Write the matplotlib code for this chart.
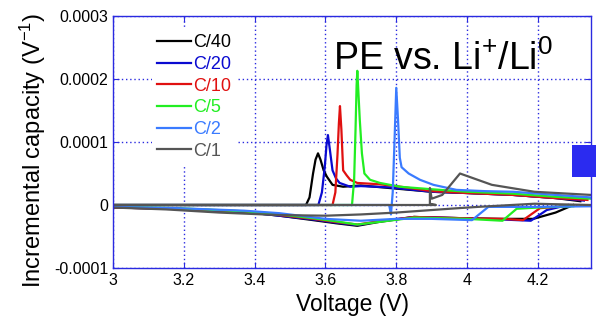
import matplotlib
matplotlib.use("Agg")
import matplotlib.pyplot as plt
from matplotlib.patches import Rectangle
import numpy as np

plt.rcParams['font.family'] = ['Liberation Sans', 'DejaVu Sans']
plt.rcParams['mathtext.fontset'] = 'custom'
plt.rcParams['mathtext.rm'] = 'Liberation Sans'
plt.rcParams['mathtext.it'] = 'Liberation Sans:italic'

# 数据（单位 1e-4 V^-1）
labels = ["C/40", "C/20", "C/10", "C/5", "C/2", "C/1"]
colors = ["#000000", "#0a0ad0", "#e01010", "#22ee22", "#3a7bff", "#555555"]

# 充电曲线
ch40_v = [3.0, 3.3, 3.5, 3.545, 3.555, 3.565, 3.572, 3.579, 3.586, 3.595, 3.604, 3.62, 3.65, 3.7, 3.78, 3.9, 4.0, 4.13, 4.25, 4.32]
ch40_y = [0, 0, 0, 0, 0.12, 0.5, 0.72, 0.82, 0.72, 0.55, 0.45, 0.32, 0.29, 0.31, 0.27, 0.21, 0.19, 0.16, 0.11, 0.06]
ch20_v = [3.0, 3.3, 3.5, 3.58, 3.59, 3.598, 3.603, 3.607, 3.612, 3.62, 3.63, 3.64, 3.67, 3.7, 3.78, 3.9, 4.0, 4.13, 4.25, 4.33]
ch20_y = [0, 0, 0, 0, 0.2, 0.6, 0.95, 1.11, 0.9, 0.55, 0.42, 0.35, 0.29, 0.3, 0.28, 0.21, 0.19, 0.16, 0.11, 0.07]
ch10_v = [3.0, 3.3, 3.5, 3.62, 3.628, 3.634, 3.638, 3.641, 3.645, 3.65, 3.66, 3.67, 3.69, 3.75, 3.8, 3.9, 4.0, 4.13, 4.25, 4.34]
ch10_y = [0, 0, 0, 0, 0.2, 0.8, 1.3, 1.57, 1.2, 0.55, 0.47, 0.4, 0.35, 0.33, 0.3, 0.22, 0.19, 0.16, 0.11, 0.08]
ch5_v = [3.0, 3.3, 3.5, 3.675, 3.681, 3.685, 3.688, 3.69, 3.697, 3.703, 3.71, 3.726, 3.754, 3.81, 3.9, 4.0, 4.13, 4.25, 4.35]
ch5_y = [0, 0, 0, 0, 0.4, 1.2, 1.9, 2.13, 1.35, 0.82, 0.5, 0.4, 0.35, 0.29, 0.25, 0.21, 0.18, 0.13, 0.1]
ch2_v = [3.0, 3.3, 3.5, 3.78, 3.785, 3.79, 3.795, 3.8, 3.805, 3.81, 3.815, 3.835, 3.867, 3.905, 3.97, 4.05, 4.13, 4.25, 4.35]
ch2_y = [0, 0, 0, 0, -0.15, 0.2, 1.0, 1.86, 1.35, 0.75, 0.6, 0.5, 0.4, 0.32, 0.24, 0.22, 0.21, 0.16, 0.12]
ch1_v = [3.0, 3.3, 3.6, 3.912, 3.895, 3.895, 3.9, 3.93, 3.98, 4.03, 4.07, 4.19, 4.35]
ch1_y = [0, 0, 0, 0, 0.02, 0.27, 0.1, 0.16, 0.5, 0.4, 0.32, 0.21, 0.16]

# 放电曲线
dc40_v = [4.30, 4.25, 4.187, 4.1, 3.99, 3.85, 3.75, 3.69, 3.63, 3.565, 3.47, 3.37, 3.18, 3.0]
dc40_y = [0, -0.12, -0.22, -0.22, -0.21, -0.19, -0.27, -0.33, -0.29, -0.24, -0.17, -0.11, -0.06, -0.04]
dc20_v = [4.285, 4.225, 4.18, 4.1, 3.99, 3.85, 3.75, 3.69, 3.63, 3.565, 3.47, 3.37, 3.18, 3.0]
dc20_y = [0, -0.08, -0.25, -0.23, -0.21, -0.19, -0.26, -0.32, -0.28, -0.23, -0.17, -0.11, -0.06, -0.04]
dc10_v = [4.27, 4.206, 4.158, 4.1, 3.99, 3.85, 3.75, 3.69, 3.63, 3.565, 3.47, 3.37, 3.18, 3.0]
dc10_y = [-0.02, -0.05, -0.24, -0.22, -0.21, -0.19, -0.26, -0.31, -0.27, -0.22, -0.16, -0.1, -0.06, -0.04]
dc5_v = [4.30, 4.2, 4.14, 4.10, 4.0, 3.85, 3.75, 3.69, 3.63, 3.565, 3.47, 3.37, 3.18, 3.0]
dc5_y = [-0.02, -0.04, -0.06, -0.25, -0.22, -0.2, -0.27, -0.31, -0.26, -0.21, -0.15, -0.1, -0.05, -0.03]
dc2_v = [4.35, 4.2, 4.06, 4.014, 3.9, 3.8, 3.7, 3.6, 3.47, 3.37, 3.18, 3.0]
dc2_y = [-0.02, -0.03, -0.03, -0.24, -0.22, -0.22, -0.25, -0.22, -0.13, -0.09, -0.05, -0.03]
dc1_v = [4.35, 4.19, 4.03, 3.95, 3.9, 3.8, 3.7, 3.6, 3.47, 3.3, 3.15, 3.0]
dc1_y = [0, 0.02, -0.03, -0.06, -0.08, -0.12, -0.15, -0.17, -0.16, -0.12, -0.07, -0.04]

charge = [(ch40_v, ch40_y), (ch20_v, ch20_y), (ch10_v, ch10_y), (ch5_v, ch5_y), (ch2_v, ch2_y), (ch1_v, ch1_y)]
discharge = [(dc40_v, dc40_y), (dc20_v, dc20_y), (dc10_v, dc10_y), (dc5_v, dc5_y), (dc2_v, dc2_y), (dc1_v, dc1_y)]

xticks = [3, 3.2, 3.4, 3.6, 3.8, 4, 4.2]
xtick_labels = ["3", "3.2", "3.4", "3.6", "3.8", "4", "4.2"]
yticks = [-0.0001, 0, 0.0001, 0.0002, 0.0003]
ytick_labels = ["-0.0001", "0", "0.0001", "0.0002", "0.0003"]

axis_blue = "#2a2ae0"

fig = plt.figure(figsize=(5.96, 3.26), dpi=100)
ax = fig.add_axes([113 / 596, 1 - 268 / 326, 478 / 596, 252 / 326])

for (cv, cy), (dv, dy), col, lab in zip(charge, discharge, colors, labels):
    ax.plot(dv, np.array(dy) * 1e-4, color=col, lw=1.6)
    ax.plot(cv, np.array(cy) * 1e-4, color=col, lw=1.6, label=lab)

ax.set_xlim(3, 4.35)
ax.set_ylim(-0.0001, 0.0003)
ax.set_xticks(xticks)
ax.set_xticklabels(xtick_labels, fontsize=11.5)
ax.set_yticks(yticks)
ax.set_yticklabels(ytick_labels, fontsize=11.5)
ax.grid(True, color=axis_blue, ls=(0, (1, 2)), lw=1)
ax.set_axisbelow(True)
ax.tick_params(direction="in", length=4, color=axis_blue, top=True, right=True)
for s in ax.spines.values():
    s.set_color(axis_blue)
    s.set_linewidth(1.0)

ax.set_xlabel("Voltage (V)", fontsize=16.5, labelpad=4)
ax.set_ylabel(r"Incremental capacity (V$^{\mathregular{-1}}$)", fontsize=17)
ax.yaxis.set_label_coords(-0.135, 0.465)

leg = ax.legend(loc="upper left", bbox_to_anchor=(0.062, 0.985), fontsize=13,
                frameon=True, edgecolor="none", facecolor="white", framealpha=1,
                handlelength=1.9, handletextpad=0.1, labelspacing=0.26,
                borderpad=0.3, fancybox=False, labelcolor="linecolor")

ax.text(0.46, 0.83, r"PE vs. Li$^{\mathregular{+}}$/Li$^{\mathregular{0}}$", transform=ax.transAxes,
        fontsize=27, color="black", va="center", ha="left")

# 右侧蓝色方块
fig.add_artist(Rectangle((572 / 596, 1 - 177 / 326), 24 / 596, 32 / 326,
                         transform=fig.transFigure, color="#2b2bf0", lw=0))

fig.savefig("out.png", dpi=100)
